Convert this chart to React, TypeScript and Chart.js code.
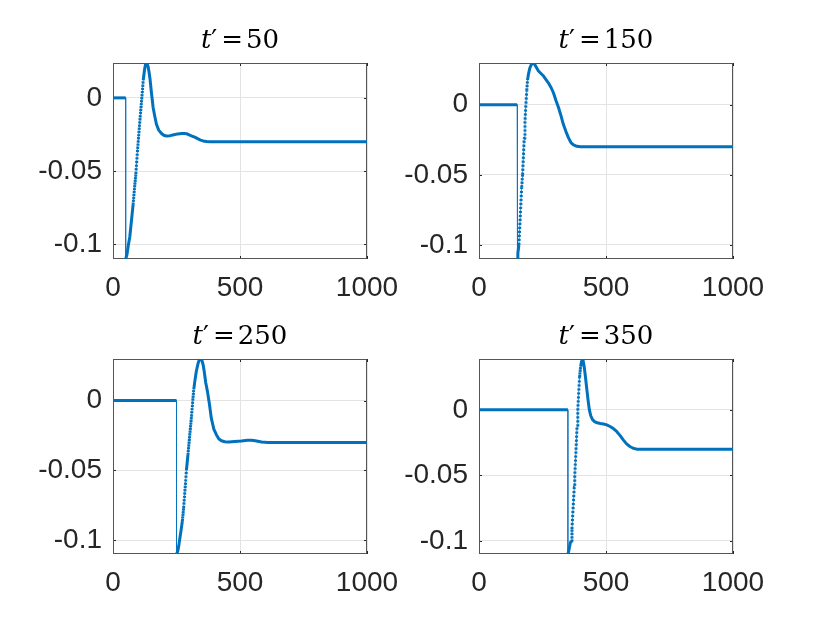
import { useEffect, useRef } from 'react';
import { Chart, registerables } from 'chart.js';

Chart.register(...registerables);

// subplot parameter shown in each title
const tPrime = [50, 150, 250, 350];

const xTicks = [0, 500, 1000];
const yTicks = [-0.1, -0.05, 0];
const yTickLabels = ['-0.1', '-0.05', '0'];
const yBottom = -0.11;
const yTop = [0.0238, 0.0297, 0.0298, 0.0388];

// t' = 50
const x50 = [0, 50, 50, 55, 60, 66, 72, 79, 85, 90, 96, 102, 108, 114, 119, 124, 128, 131, 134, 138, 142, 146, 151, 158, 165, 171, 180, 191, 200, 210, 225, 240, 255, 270, 280, 290, 300, 312, 322, 335, 345, 355, 368, 381, 1000];
const y50 = [0, 0, -0.11, -0.107, -0.101, -0.095, -0.085, -0.073, -0.061, -0.052, -0.037, -0.024, -0.011, 0.001, 0.012, 0.019, 0.023, 0.0238, 0.0232, 0.0215, 0.0175, 0.0125, 0.004, -0.0066, -0.013, -0.018, -0.022, -0.0243, -0.0255, -0.026, -0.0258, -0.0252, -0.0246, -0.0243, -0.0243, -0.0245, -0.0252, -0.0262, -0.0268, -0.028, -0.0288, -0.0294, -0.0298, -0.03, -0.03];

// t' = 150
const x150 = [0, 150, 150, 153, 157, 161, 165, 168, 171.5, 175, 178, 181, 184.6, 188, 191, 195, 200, 206, 214, 220, 234, 254, 273, 283, 293, 303, 313, 323, 332, 342, 352, 362, 372, 385, 400, 1000];
const y150 = [0, 0, -0.1095, -0.106, -0.1, -0.085, -0.07, -0.059, -0.05, -0.036, -0.024, -0.012, 0, 0.01, 0.0175, 0.022, 0.026, 0.0285, 0.0297, 0.0285, 0.024, 0.0204, 0.0156, 0.0125, 0.0085, 0.003, -0.002, -0.008, -0.014, -0.019, -0.0235, -0.027, -0.0287, -0.0297, -0.03, -0.03];

// t' = 250
const x250 = [0, 250, 250, 255, 259, 263, 268, 273, 278, 282, 286, 289, 295, 302, 309, 314, 318, 322, 328, 335, 340, 345, 350, 355, 359, 365, 372, 380, 387, 397, 407, 417, 427, 440, 455, 480, 505, 530, 545, 560, 585, 610, 1000];
const y250 = [0, 0, -0.11, -0.108, -0.104, -0.099, -0.093, -0.0864, -0.077, -0.0674, -0.058, -0.05, -0.039, -0.025, -0.0115, 0, 0.008, 0.0136, 0.021, 0.0267, 0.0292, 0.0298, 0.0288, 0.0255, 0.021, 0.013, 0.0064, -0.003, -0.0126, -0.0205, -0.0245, -0.0275, -0.0288, -0.0295, -0.0297, -0.0293, -0.029, -0.0285, -0.0284, -0.0288, -0.0297, -0.03, -0.03];

// t' = 350
const x350 = [0, 350, 350, 353, 356, 359, 362.5, 366, 369, 372, 375, 377, 380, 383, 386, 389, 392, 396, 400, 404, 407, 410, 414, 418, 424, 429, 434.5, 440, 447, 455, 465, 478, 490, 503, 516, 529, 542, 555, 568, 581, 594, 607, 621, 640, 1000];
const y350 = [0, 0, -0.11, -0.108, -0.105, -0.102, -0.1, -0.091, -0.08, -0.07, -0.059, -0.05, -0.038, -0.026, -0.013, 0, 0.011, 0.025, 0.033, 0.037, 0.0388, 0.0375, 0.033, 0.027, 0.0166, 0.008, 0, -0.0045, -0.0075, -0.009, -0.0099, -0.0104, -0.0108, -0.0115, -0.0127, -0.0143, -0.0165, -0.0195, -0.0229, -0.026, -0.028, -0.0293, -0.03, -0.03, -0.03];

const seriesX = [x50, x150, x250, x350];
const seriesY = [y50, y150, y250, y350];

const BLUE = '#0072bd';
const INK = '#262626';
const GRID = '#e3e3e3';
const TICK_FONT = { family: '"Liberation Sans", Arial, sans-serif', size: 28 };
const TITLE_FONT = '"DejaVu Serif", "Liberation Serif", serif';

// plot area of each subplot on the page: left, top, right, bottom
const boxes = [
  [113, 63, 367, 259],
  [479, 63, 733, 259],
  [113, 359, 367, 554],
  [479, 359, 733, 554],
];
const AXIS_W = 100;
const AXIS_H = 50;
const TOP_PAD = 63;
const RIGHT_PAD = 45;

// axes box and the small inward tick marks, drawn under the data
const framePlugin = {
  id: 'frame',
  beforeDatasetsDraw(chart: any) {
    const { ctx, chartArea: a, scales } = chart;
    ctx.save();
    ctx.strokeStyle = INK;
    ctx.lineWidth = 1;
    ctx.beginPath();
    for (const v of xTicks) {
      const px = Math.round(scales.x.getPixelForValue(v)) + 0.5;
      ctx.moveTo(px, a.bottom);
      ctx.lineTo(px, a.bottom - 3);
      ctx.moveTo(px, a.top);
      ctx.lineTo(px, a.top + 3);
    }
    for (const v of yTicks) {
      const py = Math.round(scales.y.getPixelForValue(v)) + 0.5;
      ctx.moveTo(a.left, py);
      ctx.lineTo(a.left + 3, py);
      ctx.moveTo(a.right, py);
      ctx.lineTo(a.right - 3, py);
    }
    ctx.stroke();
    ctx.strokeStyle = '#555';
    ctx.strokeRect(Math.round(a.left) + 0.5, Math.round(a.top) + 0.5, Math.round(a.right - a.left) - 1, Math.round(a.bottom - a.top) - 1);
    ctx.restore();
  },
};

// LaTeX-like title: italic t, prime, =, value
const headingPlugin = {
  id: 'heading',
  afterDraw(chart: any, _args: any, opts: any) {
    const { ctx, chartArea: a } = chart;
    const parts = [
      { s: 't', f: `italic 26px ${TITLE_FONT}`, gap: 0 },
      { s: '\u2032', f: `26px ${TITLE_FONT}`, gap: 4 },
      { s: '=', f: `26px ${TITLE_FONT}`, gap: 3 },
      { s: String(opts.value), f: `26px ${TITLE_FONT}`, gap: 0 },
    ];
    ctx.save();
    let total = 0;
    const widths = parts.map((p) => {
      ctx.font = p.f;
      const w = ctx.measureText(p.s).width;
      total += w + p.gap;
      return w;
    });
    let x = (a.left + a.right) / 2 - total / 2;
    const y = a.top - 15;
    ctx.fillStyle = '#000';
    ctx.textBaseline = 'alphabetic';
    ctx.textAlign = 'left';
    parts.forEach((p, i) => {
      ctx.font = p.f;
      ctx.fillText(p.s, x, y);
      x += widths[i] + p.gap;
    });
    ctx.restore();
  },
};

function slope(ctx: any) {
  const dx = Math.abs(ctx.p1.x - ctx.p0.x);
  const dy = Math.abs(ctx.p1.y - ctx.p0.y);
  return dx < 0.01 ? Infinity : dy / dx;
}

function Panel({ idx }: { idx: number }) {
  const canvasRef = useRef<HTMLCanvasElement | null>(null);

  useEffect(() => {
    if (!canvasRef.current) return;
    const pts = () => seriesX[idx].map((x, i) => ({ x, y: seriesY[idx][i] }));

    const chart = new Chart(canvasRef.current, {
      type: 'line',
      data: {
        datasets: [
          {
            data: pts(),
            borderColor: 'rgba(0, 114, 189, 0.75)',
            borderWidth: 1,
            pointRadius: 0,
            tension: 0,
          },
          {
            data: pts(),
            borderColor: BLUE,
            borderWidth: 3,
            borderJoinStyle: 'round',
            pointRadius: 0,
            tension: 0,
            segment: {
              // the vertical jump is only the thin line; the steep rise looks dotted
              borderColor: (ctx: any) => (slope(ctx) === Infinity ? 'rgba(0,0,0,0)' : undefined),
              borderDash: (ctx: any) => {
                const s = slope(ctx);
                const rising = ctx.p1.y < ctx.p0.y;
                if (!rising || s === Infinity) return undefined;
                const gap = Math.min(1.8, s * 0.254 - 2.2);
                return gap > 0.4 ? [2.2, gap] : undefined;
              },
            },
          },
        ],
      },
      options: {
        animation: false,
        responsive: true,
        maintainAspectRatio: false,
        layout: { padding: { top: TOP_PAD, right: RIGHT_PAD, left: 0, bottom: 0 } },
        plugins: {
          legend: { display: false },
          tooltip: { enabled: false },
          heading: { value: tPrime[idx] },
        } as any,
        scales: {
          x: {
            type: 'linear',
            min: 0,
            max: 1000,
            afterBuildTicks: (scale: any) => {
              scale.ticks = xTicks.map((v) => ({ value: v }));
            },
            afterFit: (scale: any) => {
              scale.height = AXIS_H;
            },
            ticks: {
              autoSkip: false,
              maxRotation: 0,
              padding: 12,
              color: INK,
              font: TICK_FONT,
              callback: (v: any) => String(v),
            },
            grid: { color: GRID, drawTicks: false },
            border: { display: false },
          },
          y: {
            type: 'linear',
            min: yBottom,
            max: yTop[idx],
            afterBuildTicks: (scale: any) => {
              scale.ticks = yTicks.map((v) => ({ value: v }));
            },
            afterFit: (scale: any) => {
              scale.width = AXIS_W;
            },
            ticks: {
              autoSkip: false,
              padding: 11,
              color: INK,
              font: TICK_FONT,
              callback: (v: any) => {
                const i = yTicks.indexOf(v);
                return i >= 0 ? yTickLabels[i] : '';
              },
            },
            grid: { color: GRID, drawTicks: false },
            border: { display: false },
          },
        },
      },
      plugins: [framePlugin, headingPlugin],
    });

    return () => {
      chart.destroy();
    };
  }, [idx]);

  const [l, t, r, b] = boxes[idx];
  return (
    <div
      style={{
        position: 'absolute',
        left: l - AXIS_W,
        top: t - TOP_PAD,
        width: r - l + AXIS_W + RIGHT_PAD,
        height: b - t + TOP_PAD + AXIS_H,
      }}
    >
      <canvas ref={canvasRef} />
    </div>
  );
}

export default function App() {
  return (
    <div style={{ position: 'absolute', left: 0, top: 0, width: 830, height: 623, background: '#fff', overflow: 'hidden' }}>
      {tPrime.map((_, i) => (
        <Panel key={i} idx={i} />
      ))}
    </div>
  );
}
